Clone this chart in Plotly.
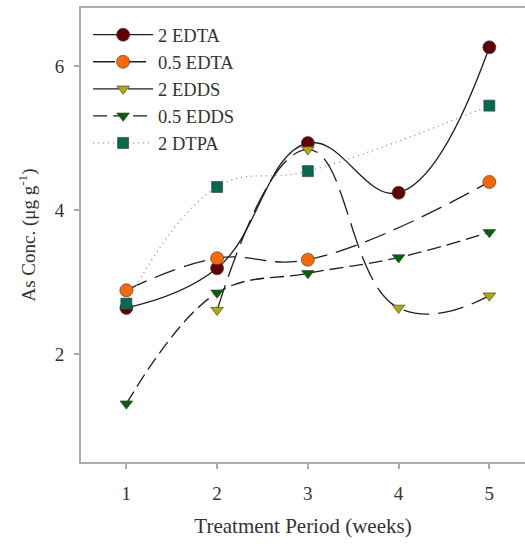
import plotly.graph_objects as go

# Arsenic concentration over the treatment period, one series per chelant dose
weeks = [1, 2, 3, 4, 5]
edta_2 = [2.64, 3.19, 4.93, 4.24, 6.26]
edta_05 = [2.885, 3.33, 3.31, None, 4.39]
edds_2 = [None, 2.61, 4.84, 2.64, 2.81]
edds_05 = [1.31, 2.85, 3.12, 3.34, 3.69]
dtpa_2 = [2.70, 4.32, 4.54, None, 5.45]

series_names = ["2 EDTA", "0.5 EDTA", "2 EDDS", "0.5 EDDS", "2 DTPA"]
x_ticks = [1, 2, 3, 4, 5]
y_ticks = [2, 4, 6]

FONT = "Liberation Serif"
LINE = "#1e1e1e"

styles = [
    dict(symbol="circle", size=13, color="#620000", dash="solid", lcolor=LINE, smooth=1.2),
    dict(symbol="circle", size=13, color="#ff6600", dash="22px,9px", lcolor=LINE, smooth=1.2),
    dict(symbol="triangle-down", size=11, color="#acac00", dash="26px,9px", lcolor=LINE, smooth=1.3),
    dict(symbol="triangle-down", size=11, color="#006400", dash="14px,6px", lcolor=LINE, smooth=1.1),
    dict(symbol="square", size=11, color="#006b4f", dash="1px,4px", lcolor="#8a8a8a", smooth=1.2),
]

fig = go.Figure()
for name, vals, st in zip(series_names, [edta_2, edta_05, edds_2, edds_05, dtpa_2], styles):
    xs = [w for w, v in zip(weeks, vals) if v is not None]
    ys = [v for v in vals if v is not None]
    fig.add_trace(go.Scatter(
        x=xs, y=ys, name=name, mode="lines+markers",
        line=dict(color=st["lcolor"], width=1.3, dash=st["dash"], shape="spline", smoothing=st["smooth"]),
        marker=dict(symbol=st["symbol"], size=st["size"], color=st["color"],
                    line=dict(color="#454545", width=0.7)),
    ))

axis_common = dict(
    showgrid=False, zeroline=False,
    showline=True, linecolor="#ababab", linewidth=2,
    ticks="outside", ticklen=5, tickwidth=1.5, tickcolor="#ababab",
    tickfont=dict(family=FONT, size=19, color="#333333"),
)

fig.update_layout(
    width=525, height=548,
    margin=dict(l=81, r=0, t=8, b=86),
    paper_bgcolor="white", plot_bgcolor="white",
    font=dict(family=FONT, color="#333333"),
    showlegend=True,
    legend=dict(
        x=0.016, y=0.982, xanchor="left", yanchor="top",
        font=dict(family=FONT, size=18.5, color="#333333"),
        itemwidth=60, traceorder="normal",
        bgcolor="rgba(0,0,0,0)",
    ),
    xaxis=dict(
        axis_common, range=[0.5, 5.393], tickvals=x_ticks,
        mirror=True, ticklabelstandoff=8,
        title=dict(text="Treatment Period (weeks)", font=dict(family=FONT, size=21, color="#333333"), standoff=16),
    ),
    yaxis=dict(
        axis_common, range=[0.5, 6.806], tickvals=y_ticks,
        ticklabelstandoff=6,
        title=dict(text="As Conc. (μg g<sup>-1</sup>)", font=dict(family=FONT, size=19, color="#333333"), standoff=14),
    ),
)

fig.write_html("out.html")
